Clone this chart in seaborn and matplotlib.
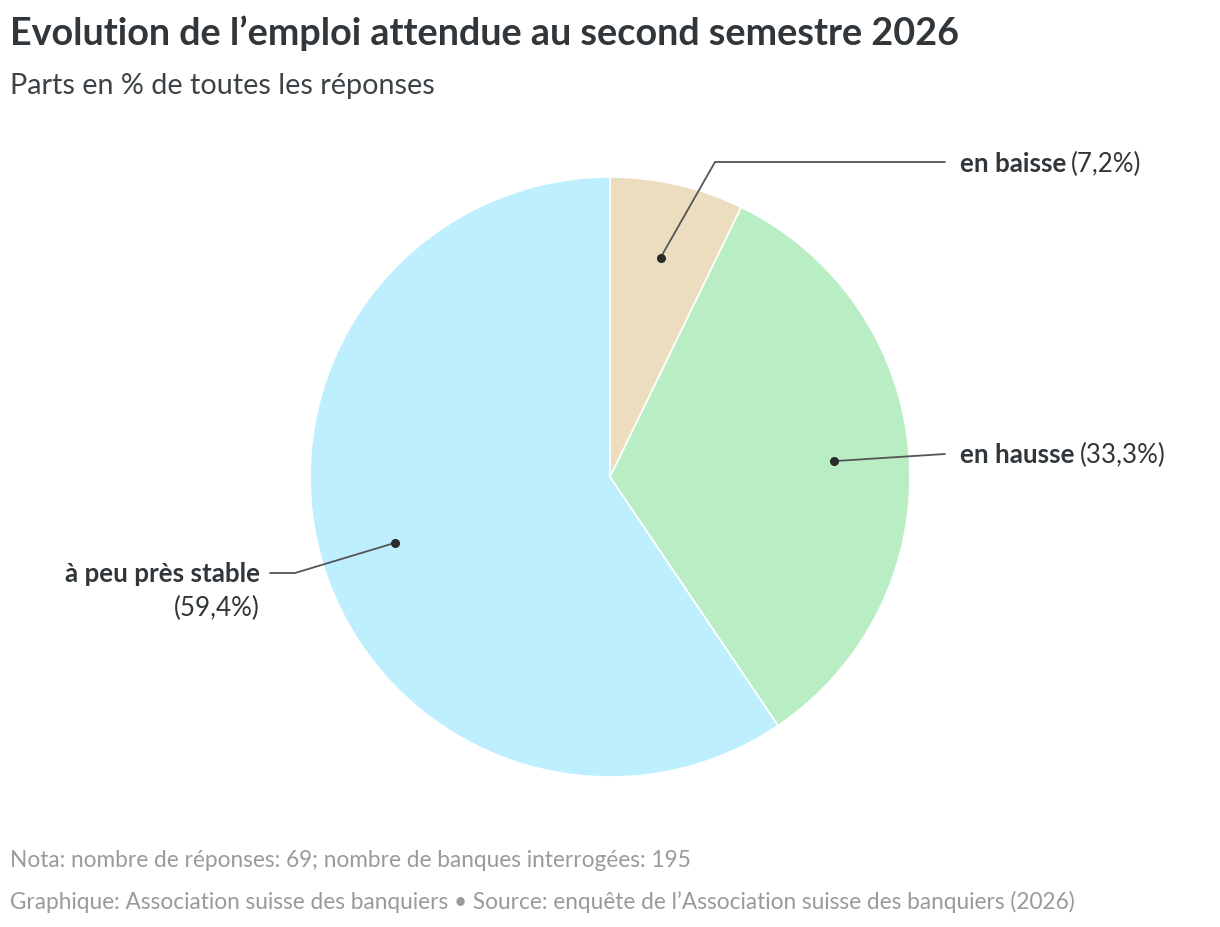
import numpy as np
import matplotlib
matplotlib.use('agg')
import matplotlib.pyplot as plt
import seaborn as sns

# data
categories = ["en baisse", "en hausse", "à peu près stable"]
shares = [7.2, 33.3, 59.4]
share_labels = ["(7,2%)", "(33,3%)", "(59,4%)"]
colors = ["#EBDDBE", "#B9EEC4", "#BDEFFE"]

sns.set_theme(style="white")
plt.rcParams['font.family'] = ['Lato', 'DejaVu Sans']

W, H = 1220, 928
fig = plt.figure(figsize=(W / 100, H / 100), dpi=100)
fig.patch.set_facecolor("white")

# pie centre and radius in pixels
cx, cy, R = 610, 478, 300
ax = fig.add_axes([(cx - R) / W, (H - cy - R) / H, 2 * R / W, 2 * R / H])
wedges, _ = ax.pie(shares, colors=colors, startangle=90, counterclock=False,
                   radius=1, wedgeprops=dict(edgecolor="white", linewidth=1.2))
ax.set_xlim(-1, 1)
ax.set_ylim(-1, 1)
ax.set_aspect("equal")
ax.axis("off")

def px(x, y):
    # pixel -> data coords of the pie axes
    return (x - cx) / R, (cy - y) / R

dark = "#30363A"
line_c = "#555555"

# label layout: elbow point, end of line, text position, alignment
layout = [
    dict(elbow=(715, 163), end=(945, 163), text=(960, 164), ha="left"),
    dict(elbow=(945, 455), end=(945, 455), text=(960, 455), ha="left"),
    dict(elbow=(295, 574), end=(270, 574), text=(260, 574), ha="right"),
]

fs = 18.7
renderer = fig.canvas.get_renderer()
for w, cat, sl, lay in zip(wedges, categories, share_labels, layout):
    ang = np.deg2rad((w.theta1 + w.theta2) / 2)
    dx, dy = 0.75 * np.cos(ang), 0.75 * np.sin(ang)
    ex, ey = px(*lay["elbow"])
    fx, fy = px(*lay["end"])
    ax.plot([dx, ex, fx], [dy, ey, fy], color=line_c, lw=1.3, clip_on=False,
            solid_joinstyle="miter")
    ax.plot(dx, dy, "o", color="#2a2a2a", ms=5.5, clip_on=False)
    tx, ty = lay["text"]
    if lay["ha"] == "left":
        t = fig.text(tx / W, 1 - ty / H, cat, fontsize=fs, fontweight="bold",
                     color=dark, ha="left", va="center")
        bb = t.get_window_extent(renderer)
        fig.text((bb.x1 + 5) / W, 1 - ty / H, sl, fontsize=fs, color=dark,
                 ha="left", va="center")
    else:
        fig.text(tx / W, 1 - ty / H, cat, fontsize=fs, fontweight="bold",
                 color=dark, ha="right", va="center")
        fig.text(tx / W, 1 - (ty + 34) / H, sl, fontsize=fs, color=dark,
                 ha="right", va="center")

# titles
fig.text(10 / W, 1 - 33 / H, "Evolution de l\u2019emploi attendue au second semestre 2026",
         fontsize=27.2, fontweight="bold", color=dark, ha="left", va="center")
fig.text(10 / W, 1 - 86 / H, "Parts en % de toutes les réponses",
         fontsize=20.7, color="#3C4245", ha="left", va="center")

# footer
fig.text(10 / W, 1 - 861 / H, "Nota: nombre de réponses: 69; nombre de banques interrogées: 195",
         fontsize=16.3, color="#9A9A9A", ha="left", va="center")
fig.text(10 / W, 1 - 902 / H,
         "Graphique: Association suisse des banquiers \u2022 Source: enquête de l\u2019Association suisse des banquiers (2026)",
         fontsize=16.3, color="#9A9A9A", ha="left", va="center")

fig.savefig("out.png", dpi=100, facecolor="white")
